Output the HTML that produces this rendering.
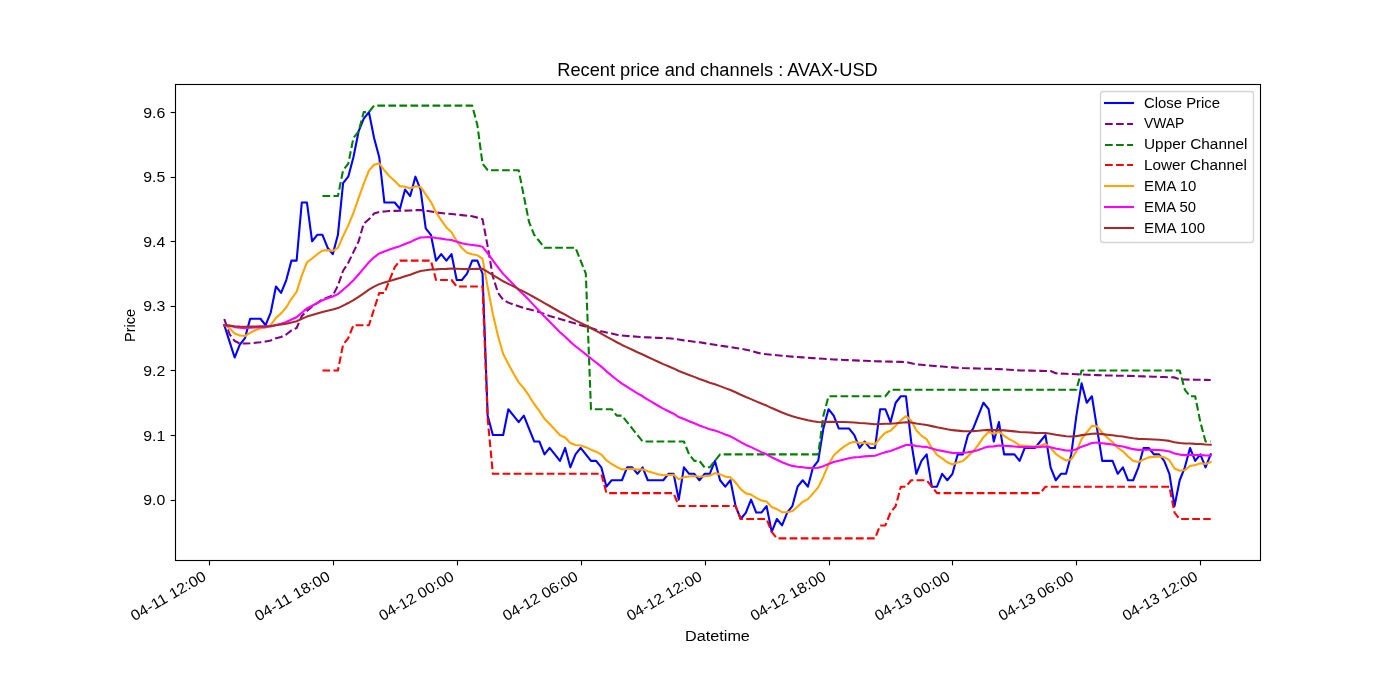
<!DOCTYPE html>
<html lang="en"><head><meta charset="utf-8"><title>Recent price and channels : AVAX-USD</title>
<style>html,body{margin:0;padding:0;background:#fff}body{width:1400px;height:700px;overflow:hidden;font-family:"Liberation Sans",sans-serif}svg{display:block;will-change:transform}text{font-family:"Liberation Sans",sans-serif;fill:#000}.ln{fill:none;stroke-width:2.0833;stroke-linejoin:round}.sq{stroke-linecap:square}.da{stroke-dasharray:7.7083 3.3333;stroke-linecap:butt}.tk{stroke:#000;stroke-width:1.1111;fill:none}</style></head><body>
<svg width="1400" height="700" viewBox="0 0 1400 700">
<rect x="0" y="0" width="1400" height="700" fill="#fff"/>
<defs><clipPath id="ax"><rect x="175" y="84" width="1085" height="476"/></clipPath></defs>
<line class="tk" x1="209.5" y1="560.5" x2="209.5" y2="565.36"/>
<line class="tk" x1="333.5" y1="560.5" x2="333.5" y2="565.36"/>
<line class="tk" x1="457.5" y1="560.5" x2="457.5" y2="565.36"/>
<line class="tk" x1="581.5" y1="560.5" x2="581.5" y2="565.36"/>
<line class="tk" x1="705.5" y1="560.5" x2="705.5" y2="565.36"/>
<line class="tk" x1="829.5" y1="560.5" x2="829.5" y2="565.36"/>
<line class="tk" x1="952.5" y1="560.5" x2="952.5" y2="565.36"/>
<line class="tk" x1="1076.5" y1="560.5" x2="1076.5" y2="565.36"/>
<line class="tk" x1="1200.5" y1="560.5" x2="1200.5" y2="565.36"/>
<line class="tk" x1="175.5" y1="500.5" x2="170.64" y2="500.5"/>
<line class="tk" x1="175.5" y1="435.5" x2="170.64" y2="435.5"/>
<line class="tk" x1="175.5" y1="370.5" x2="170.64" y2="370.5"/>
<line class="tk" x1="175.5" y1="306.5" x2="170.64" y2="306.5"/>
<line class="tk" x1="175.5" y1="241.5" x2="170.64" y2="241.5"/>
<line class="tk" x1="175.5" y1="177.5" x2="170.64" y2="177.5"/>
<line class="tk" x1="175.5" y1="112.5" x2="170.64" y2="112.5"/>
<text transform="translate(557.25 75.67)" font-size="17.67" textLength="320.50" lengthAdjust="spacingAndGlyphs">Recent price and channels : AVAX-USD</text>
<text transform="translate(685.12 640.59)" font-size="14.72" textLength="64.75" lengthAdjust="spacingAndGlyphs">Datetime</text>
<text transform="translate(134.60 341.94) rotate(-90)" font-size="14.72" textLength="33.08" lengthAdjust="spacingAndGlyphs">Price</text>
<text transform="translate(134.36 621.37) rotate(-30)" font-size="14.72" textLength="84.25" lengthAdjust="spacingAndGlyphs">04-11 12:00</text>
<text transform="translate(258.20 621.44) rotate(-30)" font-size="14.72" textLength="84.38" lengthAdjust="spacingAndGlyphs">04-11 18:00</text>
<text transform="translate(382.46 621.25) rotate(-30)" font-size="14.72" textLength="84.00" lengthAdjust="spacingAndGlyphs">04-12 00:00</text>
<text transform="translate(506.29 621.31) rotate(-30)" font-size="14.72" textLength="84.12" lengthAdjust="spacingAndGlyphs">04-12 06:00</text>
<text transform="translate(630.24 621.31) rotate(-30)" font-size="14.72" textLength="84.12" lengthAdjust="spacingAndGlyphs">04-12 12:00</text>
<text transform="translate(754.07 621.37) rotate(-30)" font-size="14.72" textLength="84.25" lengthAdjust="spacingAndGlyphs">04-12 18:00</text>
<text transform="translate(878.23 621.25) rotate(-30)" font-size="14.72" textLength="84.00" lengthAdjust="spacingAndGlyphs">04-13 00:00</text>
<text transform="translate(1002.06 621.31) rotate(-30)" font-size="14.72" textLength="84.12" lengthAdjust="spacingAndGlyphs">04-13 06:00</text>
<text transform="translate(1126.00 621.31) rotate(-30)" font-size="14.72" textLength="84.12" lengthAdjust="spacingAndGlyphs">04-13 12:00</text>
<text transform="translate(143.28 505.11)" font-size="14.72" textLength="22.00" lengthAdjust="spacingAndGlyphs">9.0</text>
<text transform="translate(143.15 440.53)" font-size="14.72" textLength="22.12" lengthAdjust="spacingAndGlyphs">9.1</text>
<text transform="translate(143.28 375.94)" font-size="14.72" textLength="22.00" lengthAdjust="spacingAndGlyphs">9.2</text>
<text transform="translate(143.28 311.35)" font-size="14.72" textLength="22.00" lengthAdjust="spacingAndGlyphs">9.3</text>
<text transform="translate(143.28 246.77)" font-size="14.72" textLength="22.00" lengthAdjust="spacingAndGlyphs">9.4</text>
<text transform="translate(143.28 182.18)" font-size="14.72" textLength="22.00" lengthAdjust="spacingAndGlyphs">9.5</text>
<text transform="translate(143.15 117.59)" font-size="14.72" textLength="22.12" lengthAdjust="spacingAndGlyphs">9.6</text>
<g clip-path="url(#ax)">
<path class="ln sq" stroke="#0000ff" d="M224.32 325.23L229.48 341.38L234.65 357.52L239.81 344.61L244.98 338.15L250.14 318.77L255.30 318.77L260.47 318.77L265.63 325.23L270.80 312.31L275.96 286.48L281.12 292.94L286.29 280.02L291.45 260.64L296.62 260.64L301.78 202.52L306.95 202.52L312.11 241.27L317.27 234.81L322.44 234.81L327.60 247.73L332.77 254.18L337.93 234.81L343.09 183.14L348.26 176.68L353.42 157.31L358.59 131.47L363.75 118.55L368.92 112.09L374.08 137.93L379.24 157.31L384.41 202.52L389.57 202.52L394.74 202.52L399.90 208.97L405.07 189.60L410.23 196.06L415.39 176.68L420.56 189.60L425.72 228.35L430.89 234.81L436.05 260.64L441.21 254.18L446.38 260.64L451.54 254.18L456.71 280.02L461.87 280.02L467.04 273.56L472.20 260.64L477.36 260.64L482.53 273.56L487.69 415.65L492.86 435.03L498.02 435.03L503.19 435.03L508.35 409.19L513.51 415.65L518.68 422.11L523.84 415.65L529.01 428.57L534.17 441.48L539.33 441.48L544.50 454.40L549.66 447.94L554.83 454.40L559.99 460.86L565.16 447.94L570.32 467.32L575.48 454.40L580.65 447.94L585.81 454.40L590.98 460.86L596.14 460.86L601.31 467.32L606.47 486.69L611.63 480.24L616.80 480.24L621.96 480.24L627.13 467.32L632.29 467.32L637.45 473.78L642.62 467.32L647.78 480.24L652.95 480.24L658.11 480.24L663.28 480.24L668.44 473.78L673.60 473.78L678.77 499.61L683.93 467.32L689.10 473.78L694.26 473.78L699.43 480.24L704.59 473.78L709.75 473.78L714.92 460.86L720.08 480.24L725.25 486.69L730.41 480.24L735.57 506.07L740.74 518.99L745.90 512.53L751.07 499.61L756.23 512.53L761.40 512.53L766.56 506.07L771.72 531.91L776.89 518.99L782.05 525.45L787.22 512.53L792.38 506.07L797.55 486.69L802.71 480.24L807.87 486.69L813.04 467.32L818.20 460.86L823.37 428.57L828.53 409.19L833.69 415.65L838.86 428.57L844.02 428.57L849.19 428.57L854.35 435.03L859.52 447.94L864.68 441.48L869.84 447.94L875.01 447.94L880.17 409.19L885.34 409.19L890.50 422.11L895.67 402.73L900.83 396.27L905.99 396.27L911.16 441.48L916.32 473.78L921.49 460.86L926.65 454.40L931.81 486.69L936.98 486.69L942.14 473.78L947.31 480.24L952.47 473.78L957.64 454.40L962.80 454.40L967.96 435.03L973.13 428.57L978.29 415.65L983.46 402.73L988.62 409.19L993.79 441.48L998.95 422.11L1004.11 454.40L1009.28 454.40L1014.44 454.40L1019.61 460.86L1024.77 447.94L1029.93 447.94L1035.10 447.94L1040.26 441.48L1045.43 435.03L1050.59 467.32L1055.76 480.24L1060.92 473.78L1066.08 473.78L1071.25 454.40L1076.41 415.65L1081.58 383.36L1086.74 402.73L1091.91 396.27L1097.07 428.57L1102.23 460.86L1107.40 460.86L1112.56 460.86L1117.73 473.78L1122.89 467.32L1128.05 480.24L1133.22 480.24L1138.38 467.32L1143.55 447.94L1148.71 447.94L1153.88 454.40L1159.04 454.40L1164.20 460.86L1169.37 473.78L1174.53 506.07L1179.70 480.24L1184.86 467.32L1190.02 447.94L1195.19 460.86L1200.35 454.40L1205.52 467.32L1210.68 454.40"/>
<path class="ln da" stroke="#800080" d="M224.32 319.03L229.48 334.01L234.65 340.99L239.81 343.51L244.98 343.51L250.14 343.31L255.30 342.80L260.47 342.22L265.63 341.51L270.80 340.47L275.96 338.15L281.12 336.98L286.29 334.47L291.45 330.40L296.62 328.01L301.78 315.99L306.95 311.02L312.11 306.50L317.27 303.01L322.44 299.39L327.60 297.46L332.77 295.52L337.93 285.70L343.09 270.72L348.26 262.84L353.42 252.12L358.59 241.40L363.75 223.57L368.92 219.31L374.08 213.56L379.24 212.01L384.41 211.43L389.57 210.98L394.74 210.85L399.90 210.72L405.07 210.59L410.23 210.46L415.39 210.14L420.56 210.14L425.72 210.59L430.89 211.43L436.05 212.46L441.21 213.04L446.38 213.56L451.54 214.01L456.71 214.59L461.87 215.14L467.04 215.69L472.20 216.27L477.36 217.63L482.53 219.18L487.69 246.43L492.86 276.47L498.02 292.94L503.19 299.72L508.35 302.62L513.51 304.56L518.68 306.31L523.84 307.98L529.01 309.34L534.17 310.70L539.33 312.12L544.50 313.93L549.66 315.99L554.83 317.54L559.99 318.90L565.16 320.47L570.32 322.04L575.48 323.61L580.65 325.14L585.81 326.43L590.98 327.97L596.14 329.70L601.31 331.27L606.47 332.40L611.63 333.54L616.80 334.67L621.96 335.53L627.13 335.95L632.29 336.36L637.45 336.78L642.62 337.11L647.78 337.36L652.95 337.61L658.11 337.86L663.28 338.08L668.44 338.27L673.60 338.67L678.77 339.54L683.93 340.40L689.10 341.05L694.26 341.69L699.43 342.34L704.59 343.14L709.75 343.95L714.92 344.77L720.08 345.59L725.25 346.37L730.41 347.16L735.57 347.94L740.74 348.76L745.90 349.79L751.07 350.81L756.23 352.37L761.40 353.72L766.56 354.24L771.72 354.76L776.89 355.27L782.05 355.75L787.22 356.17L792.38 356.59L797.55 357.00L802.71 357.39L807.87 357.76L813.04 358.13L818.20 358.49L823.37 358.82L828.53 359.12L833.69 359.42L838.86 359.72L844.02 359.95L849.19 360.17L854.35 360.39L859.52 360.60L864.68 360.80L869.84 361.00L875.01 361.20L880.17 361.40L885.34 361.52L890.50 361.63L895.67 361.75L900.83 361.86L905.99 361.98L911.16 363.21L916.32 364.39L921.49 364.83L926.65 365.26L931.81 365.69L936.98 366.12L942.14 366.55L947.31 366.96L952.47 367.38L957.64 367.79L962.80 368.07L967.96 368.22L973.13 368.37L978.29 368.52L983.46 368.67L988.62 368.82L993.79 368.97L998.95 369.12L1004.11 369.40L1009.28 369.72L1014.44 370.03L1019.61 370.35L1024.77 370.48L1029.93 370.60L1035.10 370.72L1040.26 370.84L1045.43 370.96L1050.59 371.08L1055.76 373.29L1060.92 373.61L1066.08 373.82L1071.25 374.03L1076.41 374.23L1081.58 374.45L1086.74 374.68L1091.91 374.92L1097.07 375.15L1102.23 375.33L1107.40 375.45L1112.56 375.56L1117.73 375.68L1122.89 375.79L1128.05 375.90L1133.22 376.02L1138.38 376.17L1143.55 376.35L1148.71 376.53L1153.88 376.71L1159.04 376.88L1164.20 377.06L1169.37 377.24L1174.53 377.41L1179.70 379.42L1184.86 379.51L1190.02 379.61L1195.19 379.71L1200.35 379.80L1205.52 379.90L1210.68 380.00"/>
<path class="ln da" stroke="#008000" d="M322.44 196.06L327.60 196.06L332.77 196.06L337.93 196.06L343.09 170.22L348.26 163.76L353.42 137.93L358.59 131.47L363.75 112.09L368.92 112.09L374.08 105.64L379.24 105.64L384.41 105.64L389.57 105.64L394.74 105.64L399.90 105.64L405.07 105.64L410.23 105.64L415.39 105.64L420.56 105.64L425.72 105.64L430.89 105.64L436.05 105.64L441.21 105.64L446.38 105.64L451.54 105.64L456.71 105.64L461.87 105.64L467.04 105.64L472.20 105.64L477.36 125.01L482.53 163.76L487.69 170.22L492.86 170.22L498.02 170.22L503.19 170.22L508.35 170.22L513.51 170.22L518.68 170.22L523.84 196.06L529.01 221.89L534.17 234.81L539.33 241.27L544.50 247.73L549.66 247.73L554.83 247.73L559.99 247.73L565.16 247.73L570.32 247.73L575.48 247.73L580.65 260.64L585.81 273.56L590.98 409.19L596.14 409.19L601.31 409.19L606.47 409.19L611.63 409.19L616.80 415.65L621.96 415.65L627.13 422.11L632.29 428.57L637.45 435.03L642.62 441.48L647.78 441.48L652.95 441.48L658.11 441.48L663.28 441.48L668.44 441.48L673.60 441.48L678.77 441.48L683.93 441.48L689.10 454.40L694.26 460.86L699.43 460.86L704.59 467.32L709.75 467.32L714.92 460.86L720.08 454.40L725.25 454.40L730.41 454.40L735.57 454.40L740.74 454.40L745.90 454.40L751.07 454.40L756.23 454.40L761.40 454.40L766.56 454.40L771.72 454.40L776.89 454.40L782.05 454.40L787.22 454.40L792.38 454.40L797.55 454.40L802.71 454.40L807.87 454.40L813.04 454.40L818.20 454.40L823.37 415.65L828.53 396.27L833.69 396.27L838.86 396.27L844.02 396.27L849.19 396.27L854.35 396.27L859.52 396.27L864.68 396.27L869.84 396.27L875.01 396.27L880.17 396.27L885.34 396.27L890.50 389.82L895.67 389.82L900.83 389.82L905.99 389.82L911.16 389.82L916.32 389.82L921.49 389.82L926.65 389.82L931.81 389.82L936.98 389.82L942.14 389.82L947.31 389.82L952.47 389.82L957.64 389.82L962.80 389.82L967.96 389.82L973.13 389.82L978.29 389.82L983.46 389.82L988.62 389.82L993.79 389.82L998.95 389.82L1004.11 389.82L1009.28 389.82L1014.44 389.82L1019.61 389.82L1024.77 389.82L1029.93 389.82L1035.10 389.82L1040.26 389.82L1045.43 389.82L1050.59 389.82L1055.76 389.82L1060.92 389.82L1066.08 389.82L1071.25 389.82L1076.41 389.82L1081.58 370.44L1086.74 370.44L1091.91 370.44L1097.07 370.44L1102.23 370.44L1107.40 370.44L1112.56 370.44L1117.73 370.44L1122.89 370.44L1128.05 370.44L1133.22 370.44L1138.38 370.44L1143.55 370.44L1148.71 370.44L1153.88 370.44L1159.04 370.44L1164.20 370.44L1169.37 370.44L1174.53 370.44L1179.70 370.44L1184.86 389.82L1190.02 396.27L1195.19 396.27L1200.35 422.11L1205.52 441.48L1210.68 441.48"/>
<path class="ln da" stroke="#ff0000" d="M322.44 370.44L327.60 370.44L332.77 370.44L337.93 370.44L343.09 344.61L348.26 338.15L353.42 325.23L358.59 325.23L363.75 325.23L368.92 325.23L374.08 309.08L379.24 292.94L384.41 292.94L389.57 280.02L394.74 267.10L399.90 260.64L405.07 260.64L410.23 260.64L415.39 260.64L420.56 260.64L425.72 260.64L430.89 260.64L436.05 280.02L441.21 280.02L446.38 280.02L451.54 280.02L456.71 286.48L461.87 286.48L467.04 286.48L472.20 286.48L477.36 286.48L482.53 286.48L487.69 418.88L492.86 473.78L498.02 473.78L503.19 473.78L508.35 473.78L513.51 473.78L518.68 473.78L523.84 473.78L529.01 473.78L534.17 473.78L539.33 473.78L544.50 473.78L549.66 473.78L554.83 473.78L559.99 473.78L565.16 473.78L570.32 473.78L575.48 473.78L580.65 473.78L585.81 473.78L590.98 473.78L596.14 473.78L601.31 473.78L606.47 493.15L611.63 493.15L616.80 493.15L621.96 493.15L627.13 493.15L632.29 493.15L637.45 493.15L642.62 493.15L647.78 493.15L652.95 493.15L658.11 493.15L663.28 493.15L668.44 493.15L673.60 493.15L678.77 506.07L683.93 506.07L689.10 506.07L694.26 506.07L699.43 506.07L704.59 506.07L709.75 506.07L714.92 506.07L720.08 506.07L725.25 506.07L730.41 506.07L735.57 506.07L740.74 518.99L745.90 518.99L751.07 518.99L756.23 518.99L761.40 518.99L766.56 518.99L771.72 531.91L776.89 538.36L782.05 538.36L787.22 538.36L792.38 538.36L797.55 538.36L802.71 538.36L807.87 538.36L813.04 538.36L818.20 538.36L823.37 538.36L828.53 538.36L833.69 538.36L838.86 538.36L844.02 538.36L849.19 538.36L854.35 538.36L859.52 538.36L864.68 538.36L869.84 538.36L875.01 538.36L880.17 525.45L885.34 525.45L890.50 512.53L895.67 506.07L900.83 486.69L905.99 486.69L911.16 480.24L916.32 480.24L921.49 480.24L926.65 480.24L931.81 486.69L936.98 493.15L942.14 493.15L947.31 493.15L952.47 493.15L957.64 493.15L962.80 493.15L967.96 493.15L973.13 493.15L978.29 493.15L983.46 493.15L988.62 493.15L993.79 493.15L998.95 493.15L1004.11 493.15L1009.28 493.15L1014.44 493.15L1019.61 493.15L1024.77 493.15L1029.93 493.15L1035.10 493.15L1040.26 493.15L1045.43 486.69L1050.59 486.69L1055.76 486.69L1060.92 486.69L1066.08 486.69L1071.25 486.69L1076.41 486.69L1081.58 486.69L1086.74 486.69L1091.91 486.69L1097.07 486.69L1102.23 486.69L1107.40 486.69L1112.56 486.69L1117.73 486.69L1122.89 486.69L1128.05 486.69L1133.22 486.69L1138.38 486.69L1143.55 486.69L1148.71 486.69L1153.88 486.69L1159.04 486.69L1164.20 486.69L1169.37 486.69L1174.53 512.53L1179.70 518.99L1184.86 518.99L1190.02 518.99L1195.19 518.99L1200.35 518.99L1205.52 518.99L1210.68 518.99"/>
<path class="ln sq" stroke="#ffa500" d="M224.32 325.23L229.48 328.17L234.65 333.50L239.81 335.52L244.98 336.00L250.14 332.87L255.30 330.30L260.47 328.21L265.63 327.67L270.80 324.87L275.96 317.89L281.12 313.36L286.29 307.29L291.45 298.81L296.62 291.87L301.78 275.63L306.95 262.33L312.11 258.50L317.27 254.19L322.44 250.67L327.60 250.13L332.77 250.87L337.93 247.95L343.09 236.17L348.26 225.35L353.42 212.98L358.59 198.16L363.75 183.69L368.92 170.67L374.08 164.72L379.24 163.37L384.41 170.49L389.57 176.31L394.74 181.07L399.90 186.15L405.07 186.77L410.23 188.46L415.39 186.32L420.56 186.92L425.72 194.45L430.89 201.79L436.05 212.49L441.21 220.07L446.38 227.45L451.54 232.31L456.71 240.98L461.87 248.08L467.04 252.71L472.20 254.15L477.36 255.33L482.53 258.65L487.69 287.19L492.86 314.07L498.02 336.06L503.19 354.06L508.35 364.08L513.51 373.46L518.68 382.30L523.84 388.37L529.01 395.68L534.17 404.00L539.33 410.82L544.50 418.74L549.66 424.05L554.83 429.57L559.99 435.26L565.16 437.57L570.32 442.98L575.48 445.05L580.65 445.58L585.81 447.18L590.98 449.67L596.14 451.70L601.31 454.54L606.47 460.39L611.63 464.00L616.80 466.95L621.96 469.37L627.13 468.99L632.29 468.69L637.45 469.61L642.62 469.20L647.78 471.20L652.95 472.85L658.11 474.19L663.28 475.29L668.44 475.01L673.60 474.79L678.77 479.30L683.93 477.12L689.10 476.52L694.26 476.02L699.43 476.78L704.59 476.24L709.75 475.79L714.92 473.08L720.08 474.38L725.25 476.62L730.41 477.28L735.57 482.51L740.74 489.14L745.90 493.39L751.07 494.53L756.23 497.80L761.40 500.48L766.56 501.49L771.72 507.02L776.89 509.20L782.05 512.15L787.22 512.22L792.38 511.10L797.55 506.67L802.71 501.86L807.87 499.10L813.04 493.32L818.20 487.42L823.37 476.72L828.53 464.44L833.69 455.57L838.86 450.66L844.02 446.64L849.19 443.36L854.35 441.84L859.52 442.95L864.68 442.68L869.84 443.64L875.01 444.42L880.17 438.02L885.34 432.78L890.50 430.84L895.67 425.73L900.83 420.37L905.99 415.99L911.16 420.63L916.32 430.29L921.49 435.85L926.65 439.22L931.81 447.85L936.98 454.92L942.14 458.34L947.31 462.32L952.47 464.41L957.64 462.59L962.80 461.10L967.96 456.36L973.13 451.31L978.29 444.82L983.46 437.17L988.62 432.08L993.79 433.79L998.95 431.67L1004.11 435.80L1009.28 439.18L1014.44 441.95L1019.61 445.39L1024.77 445.85L1029.93 446.23L1035.10 446.54L1040.26 445.62L1045.43 443.70L1050.59 447.99L1055.76 453.85L1060.92 457.48L1066.08 460.44L1071.25 459.34L1076.41 451.40L1081.58 439.03L1086.74 432.43L1091.91 425.85L1097.07 426.35L1102.23 432.62L1107.40 437.76L1112.56 441.96L1117.73 447.74L1122.89 451.30L1128.05 456.56L1133.22 460.87L1138.38 462.04L1143.55 459.48L1148.71 457.38L1153.88 456.84L1159.04 456.40L1164.20 457.21L1169.37 460.22L1174.53 468.56L1179.70 470.68L1184.86 470.07L1190.02 466.05L1195.19 465.10L1200.35 463.16L1205.52 463.91L1210.68 462.18"/>
<path class="ln sq" stroke="#ff00ff" d="M224.32 325.23L229.48 325.86L234.65 327.10L239.81 327.79L244.98 328.20L250.14 327.83L255.30 327.47L260.47 327.13L265.63 327.06L270.80 326.48L275.96 324.91L281.12 323.66L286.29 321.94L291.45 319.54L296.62 317.23L301.78 312.73L306.95 308.41L312.11 305.78L317.27 302.99L322.44 300.32L327.60 298.26L332.77 296.53L337.93 294.11L343.09 289.76L348.26 285.32L353.42 280.30L358.59 274.47L363.75 268.35L368.92 262.22L374.08 257.35L379.24 253.43L384.41 251.43L389.57 249.51L394.74 247.67L399.90 246.15L405.07 243.93L410.23 242.06L415.39 239.49L420.56 237.54L425.72 237.18L430.89 237.08L436.05 238.01L441.21 238.64L446.38 239.50L451.54 240.08L456.71 241.65L461.87 243.15L467.04 244.34L472.20 244.98L477.36 245.60L482.53 246.69L487.69 253.32L492.86 260.44L498.02 267.29L503.19 273.87L508.35 279.18L513.51 284.53L518.68 289.92L523.84 294.85L529.01 300.10L534.17 305.64L539.33 310.97L544.50 316.59L549.66 321.74L554.83 326.95L559.99 332.20L565.16 336.74L570.32 341.86L575.48 346.27L580.65 350.26L585.81 354.34L590.98 358.52L596.14 362.53L601.31 366.64L606.47 371.35L611.63 375.62L616.80 379.72L621.96 383.66L627.13 386.95L632.29 390.10L637.45 393.38L642.62 396.28L647.78 399.57L652.95 402.73L658.11 405.77L663.28 408.69L668.44 411.25L673.60 413.70L678.77 417.07L683.93 419.04L689.10 421.18L694.26 423.25L699.43 425.48L704.59 427.38L709.75 429.20L714.92 430.44L720.08 432.39L725.25 434.52L730.41 436.31L735.57 439.05L740.74 442.18L745.90 444.94L751.07 447.09L756.23 449.65L761.40 452.12L766.56 454.23L771.72 457.28L776.89 459.70L782.05 462.28L787.22 464.25L792.38 465.89L797.55 466.70L802.71 467.24L807.87 468.00L813.04 467.97L818.20 467.69L823.37 466.16L828.53 463.92L833.69 462.03L838.86 460.72L844.02 459.46L849.19 458.25L854.35 457.34L859.52 456.97L864.68 456.36L869.84 456.03L875.01 455.71L880.17 453.89L885.34 452.14L890.50 450.96L895.67 449.07L900.83 447.00L905.99 445.01L911.16 444.87L916.32 446.00L921.49 446.59L926.65 446.89L931.81 448.45L936.98 449.95L942.14 450.89L947.31 452.04L952.47 452.89L957.64 452.95L962.80 453.01L967.96 452.30L973.13 451.37L978.29 449.97L983.46 448.12L988.62 446.59L993.79 446.39L998.95 445.44L1004.11 445.79L1009.28 446.13L1014.44 446.45L1019.61 447.02L1024.77 447.05L1029.93 447.09L1035.10 447.12L1040.26 446.90L1045.43 446.44L1050.59 447.25L1055.76 448.55L1060.92 449.54L1066.08 450.49L1071.25 450.64L1076.41 449.27L1081.58 446.68L1086.74 444.96L1091.91 443.05L1097.07 442.48L1102.23 443.20L1107.40 443.90L1112.56 444.56L1117.73 445.71L1122.89 446.55L1128.05 447.88L1133.22 449.14L1138.38 449.86L1143.55 449.78L1148.71 449.71L1153.88 449.89L1159.04 450.07L1164.20 450.49L1169.37 451.41L1174.53 453.55L1179.70 454.60L1184.86 455.10L1190.02 454.82L1195.19 455.05L1200.35 455.03L1205.52 455.51L1210.68 455.47"/>
<path class="ln sq" stroke="#a52a2a" d="M224.32 325.23L229.48 325.55L234.65 326.18L239.81 326.55L244.98 326.78L250.14 326.62L255.30 326.46L260.47 326.31L265.63 326.29L270.80 326.01L275.96 325.23L281.12 324.59L286.29 323.71L291.45 322.46L296.62 321.23L301.78 318.88L306.95 316.58L312.11 315.09L317.27 313.50L322.44 311.94L327.60 310.67L332.77 309.55L337.93 308.07L343.09 305.60L348.26 303.04L353.42 300.16L358.59 296.82L363.75 293.29L368.92 289.70L374.08 286.69L379.24 284.13L384.41 282.52L389.57 280.93L394.74 279.38L399.90 277.98L405.07 276.23L410.23 274.65L415.39 272.71L420.56 271.06L425.72 270.22L430.89 269.51L436.05 269.34L441.21 269.04L446.38 268.87L451.54 268.58L456.71 268.81L461.87 269.03L467.04 269.12L472.20 268.95L477.36 268.79L482.53 268.88L487.69 271.79L492.86 275.02L498.02 278.19L503.19 281.29L508.35 283.83L513.51 286.44L518.68 289.12L523.84 291.63L529.01 294.34L534.17 297.25L539.33 300.11L544.50 303.17L549.66 306.03L554.83 308.97L559.99 311.98L565.16 314.67L570.32 317.69L575.48 320.40L580.65 322.93L585.81 325.53L590.98 328.21L596.14 330.84L601.31 333.54L606.47 336.57L611.63 339.42L616.80 342.21L621.96 344.94L627.13 347.36L632.29 349.74L637.45 352.19L642.62 354.47L647.78 356.96L652.95 359.40L658.11 361.80L663.28 364.14L668.44 366.31L673.60 368.44L678.77 371.04L683.93 372.95L689.10 374.94L694.26 376.90L699.43 378.95L704.59 380.82L709.75 382.66L714.92 384.21L720.08 386.11L725.25 388.11L730.41 389.93L735.57 392.23L740.74 394.74L745.90 397.07L751.07 399.10L756.23 401.35L761.40 403.55L766.56 405.58L771.72 408.08L776.89 410.28L782.05 412.56L787.22 414.54L792.38 416.35L797.55 417.74L802.71 418.98L807.87 420.32L813.04 421.25L818.20 422.04L823.37 422.17L828.53 421.91L833.69 421.79L838.86 421.92L844.02 422.05L849.19 422.18L854.35 422.43L859.52 422.94L864.68 423.31L869.84 423.80L875.01 424.27L880.17 423.97L885.34 423.68L890.50 423.65L895.67 423.24L900.83 422.70L905.99 422.18L911.16 422.56L916.32 423.58L921.49 424.31L926.65 424.91L931.81 426.13L936.98 427.33L942.14 428.25L947.31 429.28L952.47 430.16L957.64 430.64L962.80 431.11L967.96 431.19L973.13 431.14L978.29 430.83L983.46 430.28L988.62 429.86L993.79 430.09L998.95 429.93L1004.11 430.41L1009.28 430.89L1014.44 431.36L1019.61 431.94L1024.77 432.26L1029.93 432.57L1035.10 432.87L1040.26 433.04L1045.43 433.08L1050.59 433.76L1055.76 434.68L1060.92 435.45L1066.08 436.21L1071.25 436.57L1076.41 436.16L1081.58 435.11L1086.74 434.47L1091.91 433.72L1097.07 433.61L1102.23 434.15L1107.40 434.68L1112.56 435.20L1117.73 435.96L1122.89 436.59L1128.05 437.45L1133.22 438.30L1138.38 438.87L1143.55 439.05L1148.71 439.23L1153.88 439.53L1159.04 439.82L1164.20 440.24L1169.37 440.90L1174.53 442.19L1179.70 442.95L1184.86 443.43L1190.02 443.52L1195.19 443.86L1200.35 444.07L1205.52 444.53L1210.68 444.73"/>
</g>
<rect x="175.5" y="84.5" width="1085" height="476" fill="none" stroke="#000" stroke-width="1.1111" stroke-linejoin="miter"/>
<rect x="1100.5" y="91.5" width="153.00" height="151.00" rx="2.78" ry="2.78" fill="#fff" stroke="#ccc" stroke-width="1.3889" opacity="0.8"/>
<path class="ln sq" stroke="#0000ff" d="M1105 103L1133 103"/>
<path class="ln da" stroke="#800080" d="M1105 124L1133 124"/>
<path class="ln da" stroke="#008000" d="M1105 145L1133 145"/>
<path class="ln da" stroke="#ff0000" d="M1105 165L1133 165"/>
<path class="ln sq" stroke="#ffa500" d="M1105 186L1133 186"/>
<path class="ln sq" stroke="#ff00ff" d="M1105 207L1133 207"/>
<path class="ln sq" stroke="#a52a2a" d="M1105 228L1133 228"/>
<text transform="translate(1144.00 107.50)" font-size="14.72" textLength="76.00" lengthAdjust="spacingAndGlyphs">Close Price</text>
<text transform="translate(1144.00 128.44)" font-size="14.72" textLength="40.38" lengthAdjust="spacingAndGlyphs">VWAP</text>
<text transform="translate(1144.00 149.39)" font-size="14.72" textLength="103.50" lengthAdjust="spacingAndGlyphs">Upper Channel</text>
<text transform="translate(1144.00 170.33)" font-size="14.72" textLength="103.00" lengthAdjust="spacingAndGlyphs">Lower Channel</text>
<text transform="translate(1144.00 191.28)" font-size="14.72" textLength="52.25" lengthAdjust="spacingAndGlyphs">EMA 10</text>
<text transform="translate(1144.00 212.22)" font-size="14.72" textLength="52.12" lengthAdjust="spacingAndGlyphs">EMA 50</text>
<text transform="translate(1144.00 233.17)" font-size="14.72" textLength="61.00" lengthAdjust="spacingAndGlyphs">EMA 100</text>
</svg></body></html>
